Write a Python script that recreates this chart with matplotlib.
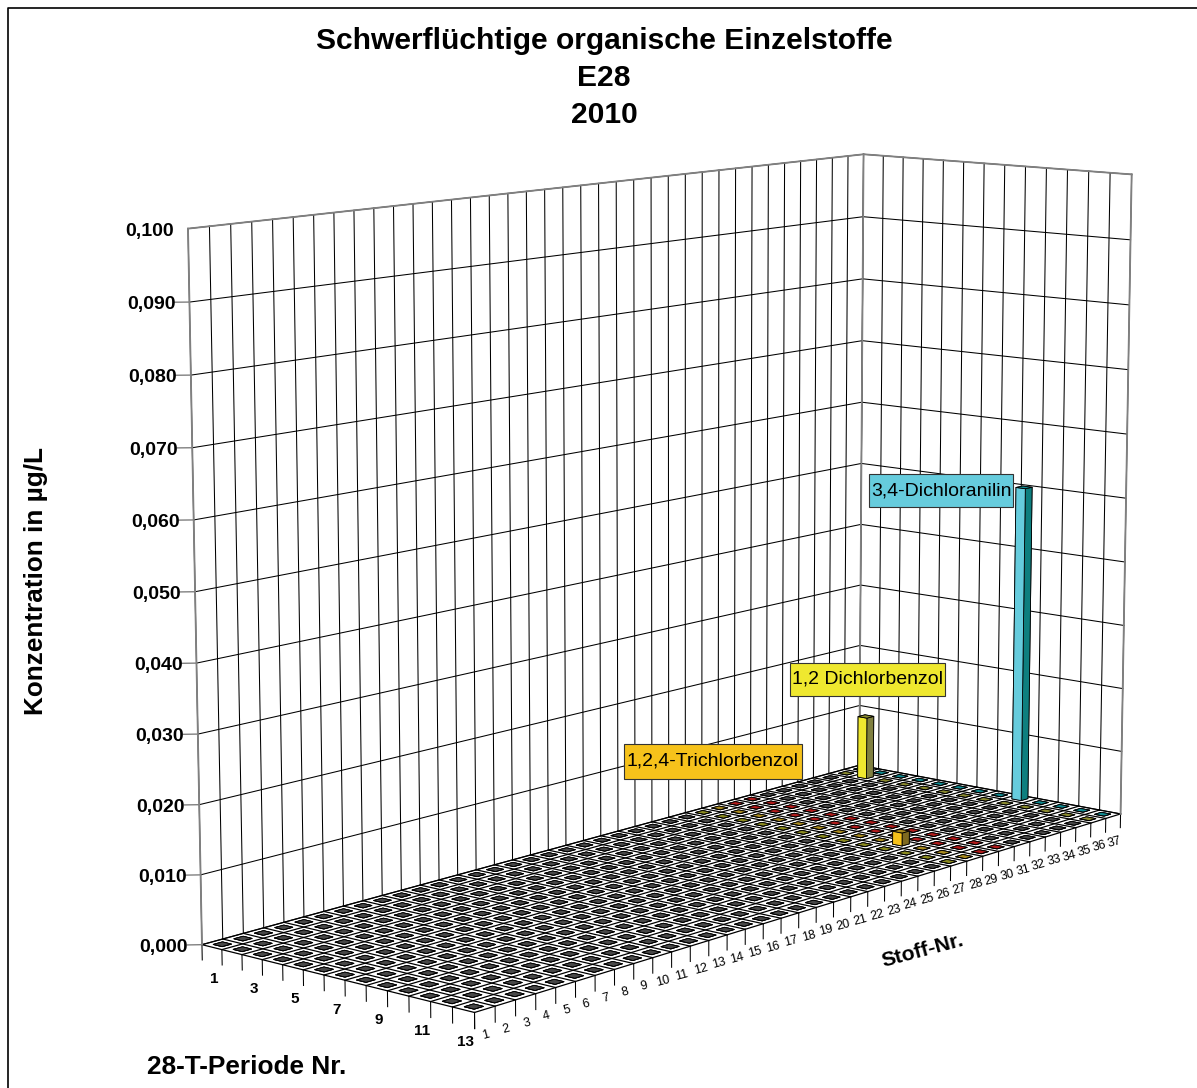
import numpy as np
import matplotlib
matplotlib.use("Agg")
import matplotlib.pyplot as plt
from matplotlib.lines import Line2D
from matplotlib.patches import Rectangle
from mpl_toolkits.mplot3d import proj3d

plt.rcParams['font.family'] = ['Liberation Sans', 'DejaVu Sans']

W, H = 1197, 1088

# data
stoffe = list(range(1, 38))
perioden = list(range(1, 14))
werte_stoff = [28, 36, 37]
werte_periode = [10, 2, 9]
werte = [0.002, 0.010, 0.050]
y_ticks = [0.00, 0.01, 0.02, 0.03, 0.04, 0.05, 0.06, 0.07, 0.08, 0.09, 0.10]

# (left face, right face, top) per stoff, everything else is grey
farben = {27: ('#EFE82F', '#808040', '#8A8A20'),
          28: ('#F6C21B', '#7F6A20', '#A88A20'),
          29: ('#D02020', '#801010', '#B01C1C'),
          30: ('#D02020', '#801010', '#B01C1C'),
          36: ('#EFE82F', '#808040', '#8A8A30'),
          37: ('#66CCDD', '#0E7F7F', '#108A90')}
grau = ('#484848', '#333333', '#484848')

fig = plt.figure(figsize=(W / 100, H / 100), dpi=100)
AW = 1500.0
ax = fig.add_axes([-82.59 / W, -224.51 / H, AW / W, AW / H], projection='3d', computed_zorder=False)
ax.set_axis_off()
ax.set_xlim(0, 37)
ax.set_ylim(0, 13)
ax.set_zlim(0, 0.1)
ax.set_proj_type('persp', focal_length=0.5545)
ax.view_init(elev=10.092, azim=-139.359, roll=-0.003)
ax.set_box_aspect((1.4693, 0.5209, 1), zoom=0.8224)
ax.apply_aspect()


def pixel(x, y, z):
    # 3d data point to figure pixels
    u, v, _ = proj3d.proj_transform(x, y, z, ax.get_proj())
    return ax.transData.transform((u, v))


def label(x, y, z, dx, dy, txt, **kw):
    p = pixel(x, y, z)
    fig.text((p[0] + dx) / W, (p[1] + dy) / H, txt, **kw)


# bars, one for every cell, the empty ones are flat
breite = 0.45
xs, ys, hs, cols = [], [], [], []
for st in stoffe:
    for pe in perioden:
        xs.append(st - 0.5 - breite / 2)
        ys.append(13 - (pe - 0.5) - breite / 2)
        h = 0.0
        for a, b, w in zip(werte_stoff, werte_periode, werte):
            if a == st and b == pe:
                h = w
        hs.append(h)
        links, rechts, oben = farben.get(st, grau)
        # faces: bottom, top, -y, +y, -x, +x
        cols += [oben, oben, rechts, rechts, links, links]

# walls, floor, ticks
for i in range(38):
    ax.plot([i, i], [13, 13], [0, 0.1], color='k', lw=0.75, zorder=1)
    ax.plot([i, i], [0, 13], [0, 0], color='k', lw=0.9, zorder=1)
    ax.plot([i, i], [0, 0], [-0.0022, 0], color='k', lw=0.75, zorder=1)
for j in range(14):
    ax.plot([37, 37], [j, j], [0, 0.1], color='k', lw=0.75, zorder=1)
    ax.plot([0, 37], [j, j], [0, 0], color='k', lw=0.9, zorder=1)
    ax.plot([0, 0], [j, j], [-0.0022, 0], color='k', lw=0.75, zorder=1)
for z in y_ticks:
    ax.plot([0, 37, 37], [13, 13, 0], [z, z, z], color='k', lw=0.75, zorder=1)
    if z < 0.1:
        ax.plot([0, -0.36], [13, 13.36], [z, z], color='#808080', lw=1.0, zorder=1)
    label(0, 13, z, -14, -7, f'{z:.3f}'.replace('.', ','), ha='right', va='baseline', fontsize=14, fontweight='bold')
ax.plot([0, 0], [13, 13], [0, .1], color='#808080', lw=1.3, zorder=1)
ax.plot([37, 37], [13, 13], [0, .1], color='#808080', lw=1.3, zorder=1)
ax.plot([37, 37], [0, 0], [0, .1], color='#808080', lw=1.3, zorder=1)
ax.plot([0, 37, 37], [13, 13, 0], [.1, .1, .1], color='#808080', lw=1.3, zorder=1)

ax.bar3d(xs, ys, np.zeros(len(xs)), breite, breite, hs, color=cols, edgecolor='k', linewidth=0.6, shade=False, zorder=2)

for pe in perioden[::2]:
    label(0, 13 - (pe - 0.5), 0, 2, -32, str(pe), ha='center', va='center', fontsize=11, fontweight='bold')
for st in stoffe:
    label(st - 0.5, 0, 0, 1, -26, str(st), ha='center', va='center', fontsize=9, rotation=15)


def box(x0, y0, x1, y1, farbe, txt):
    fig.add_artist(Rectangle((x0 / W, 1 - y1 / H), (x1 - x0) / W, (y1 - y0) / H, transform=fig.transFigure,
                             facecolor=farbe, edgecolor='#333333', lw=0.8, zorder=5))
    fig.text((x0 + x1) / 2 / W, 1 - (y0 + y1) / 2 / H, txt, ha='center', va='center', fontsize=14, zorder=6)


box(869, 474, 1013, 507, '#66CCDD', '3,4-Dichloranilin')
box(790, 663, 945, 696, '#EFE82F', '1,2 Dichlorbenzol')
box(624, 744, 802, 779, '#F6C21B', '1,2,4-Trichlorbenzol')

fig.text(604 / W, 1 - 78 / H, 'Schwerflüchtige organische Einzelstoffe\nE28\n2010', ha='center', va='center',
         fontsize=21.6, fontweight='bold', linespacing=1.43)
fig.text(36.5 / W, 1 - 581 / H, 'Konzentration in µg/L', rotation=90, ha='center', va='center', fontsize=18.8, fontweight='bold')
fig.text(147 / W, 1 - 1067 / H, '28-T-Periode Nr.', ha='left', va='center', fontsize=18.9, fontweight='bold')
fig.text(923 / W, 1 - 951 / H, 'Stoff-Nr.', rotation=15, ha='center', va='center', fontsize=15.3, fontweight='bold')
# frame only on the left and top
fig.add_artist(Line2D([7.5 / W, 7.5 / W, 1], [0, 1 - 7.5 / H, 1 - 7.5 / H], transform=fig.transFigure, color='k', lw=1.2, zorder=7))

fig.savefig('out.png', dpi=100)
